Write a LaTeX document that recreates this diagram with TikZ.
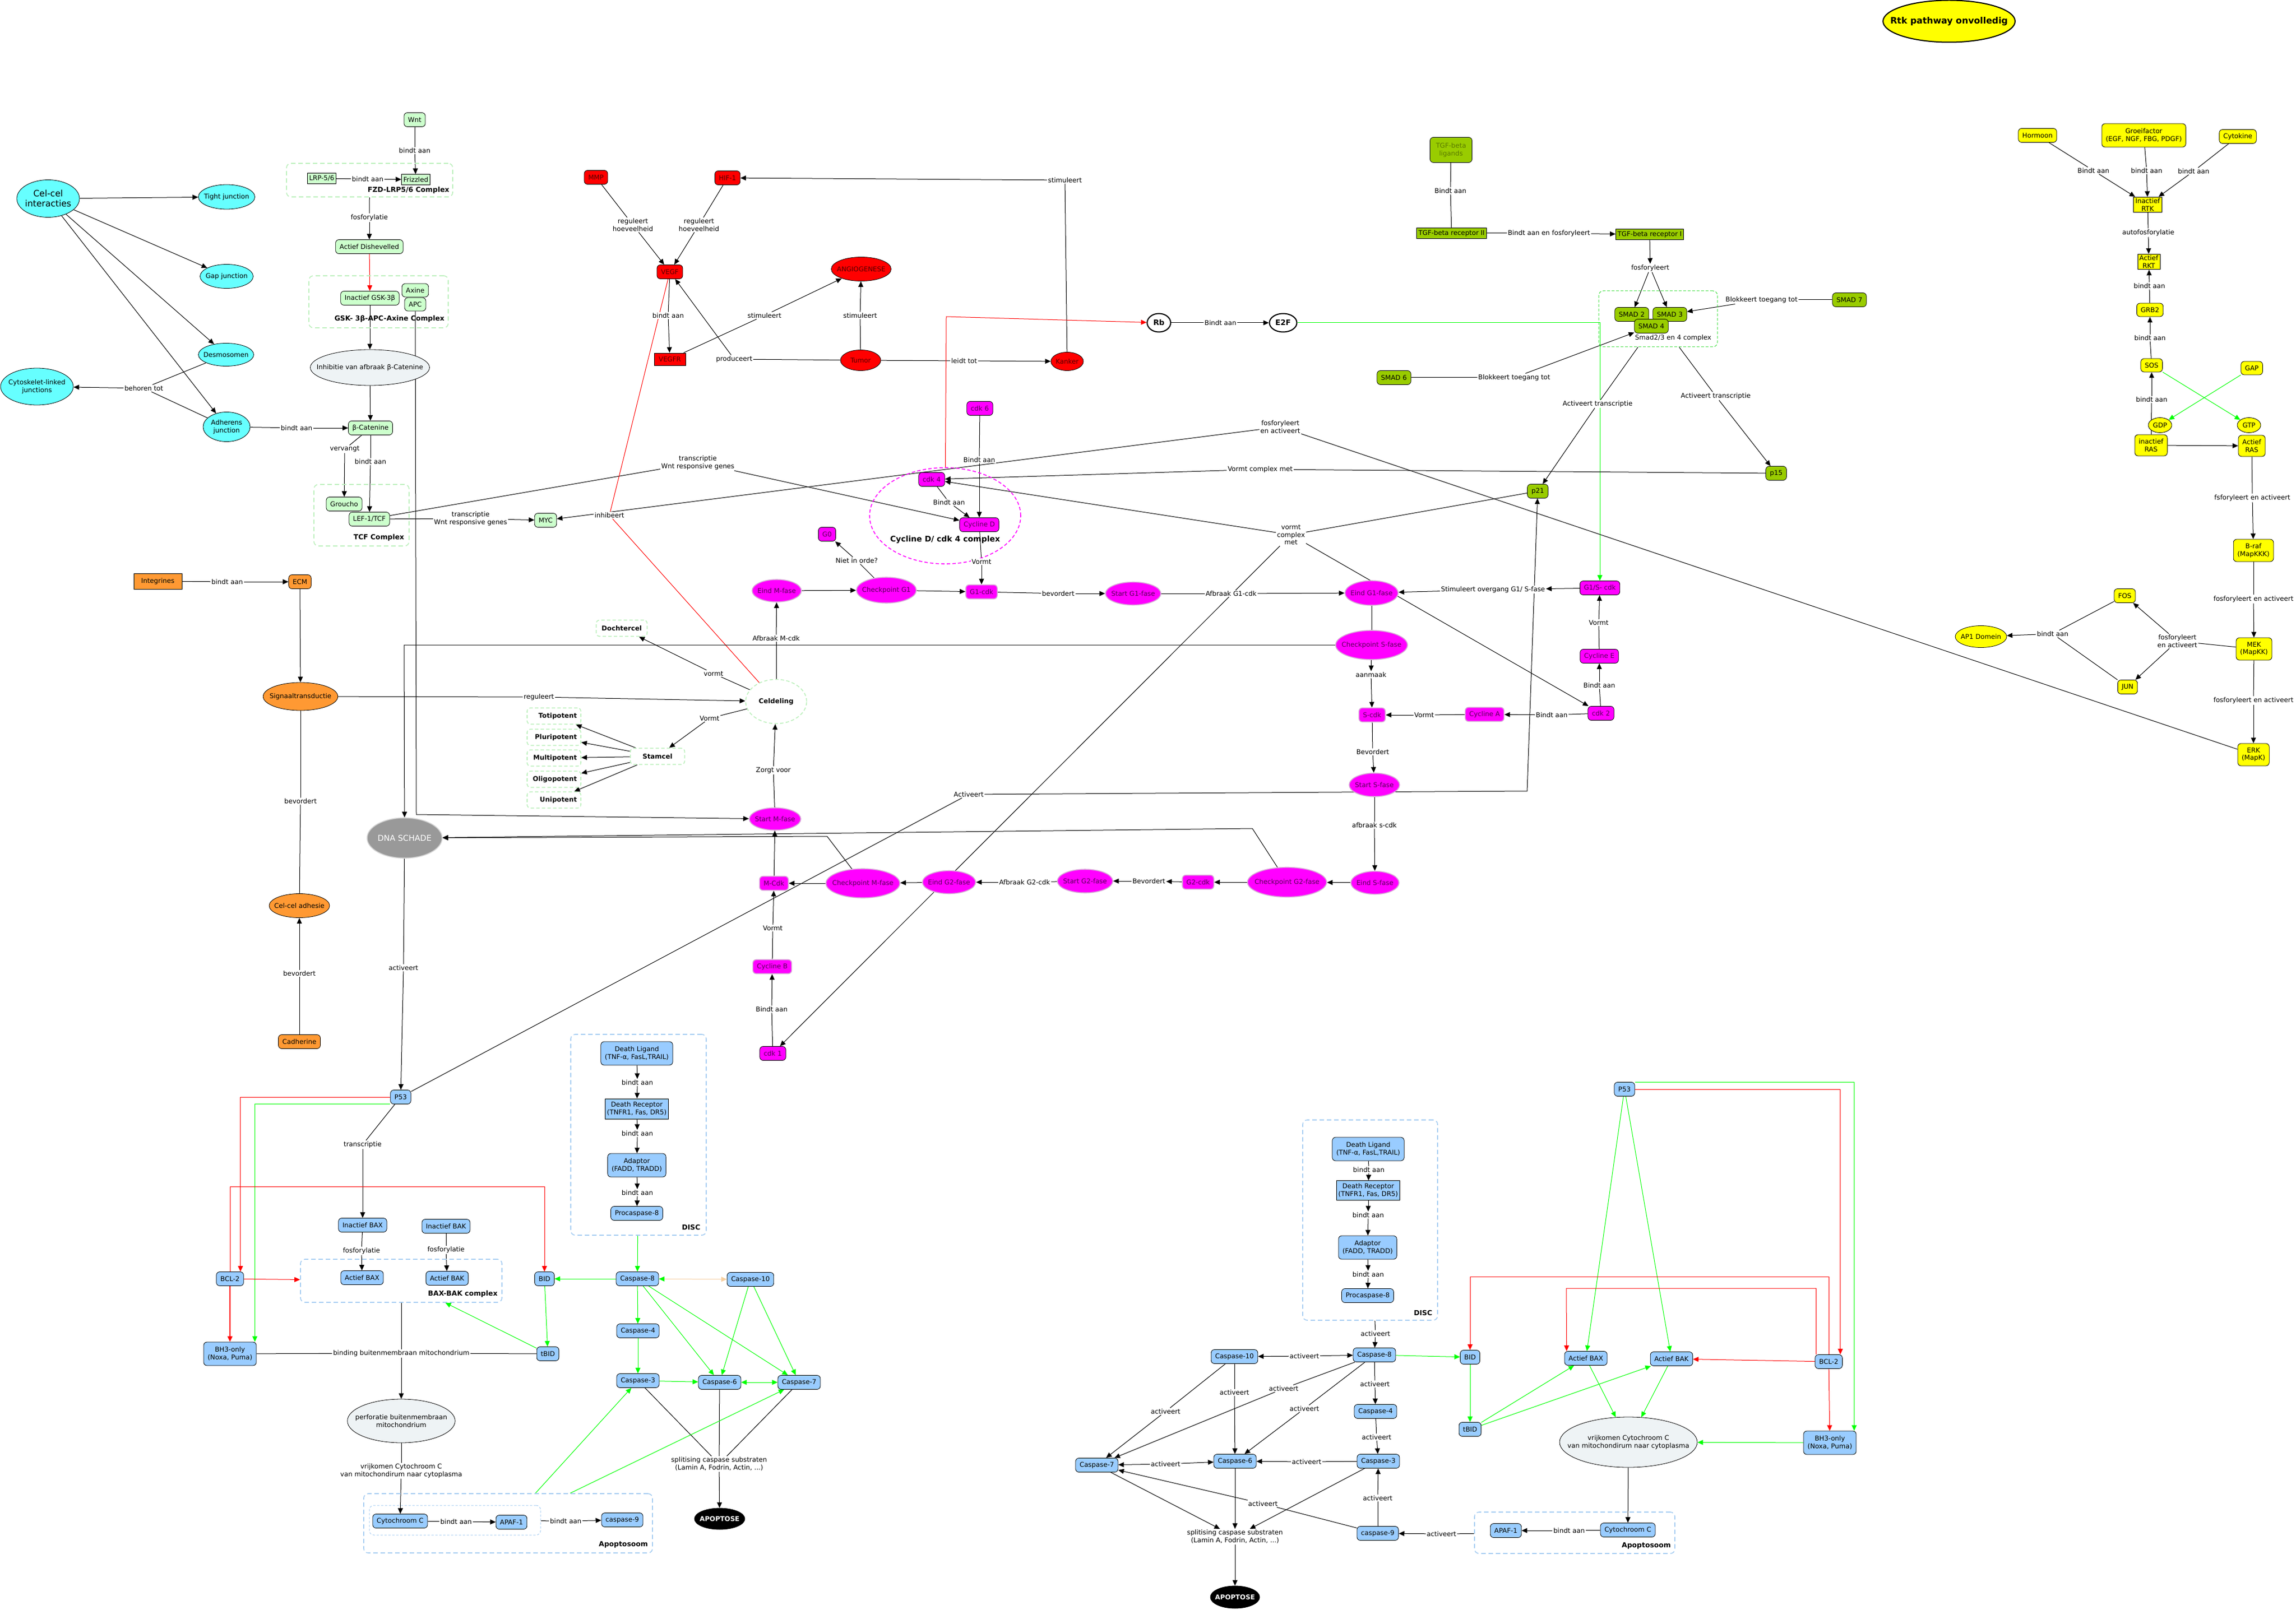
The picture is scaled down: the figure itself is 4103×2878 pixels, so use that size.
\documentclass[tikz,border=0pt]{standalone}
\usepackage{fontspec}
\setmainfont{DejaVu Sans}
\usetikzlibrary{arrows.meta,shapes.geometric}
\pgfdeclarelayer{bg}
\pgfsetlayers{bg,main}
\definecolor{celcyan}{HTML}{66FFFF}
\definecolor{wntgreen}{HTML}{CCFFCC}
\definecolor{grpgreen}{HTML}{BDF0BD}
\definecolor{tgfgreen}{HTML}{99CC00}
\definecolor{tgftext}{HTML}{5A7A00}
\definecolor{smadline}{HTML}{33DD33}
\definecolor{angred}{HTML}{FF0000}
\definecolor{redtext}{HTML}{550000}
\definecolor{cycmag}{HTML}{FF00FF}
\definecolor{magtext}{HTML}{5A005A}
\definecolor{magedge}{HTML}{D8A8D8}
\definecolor{rtkyellow}{HTML}{FFFF00}
\definecolor{ecmorange}{HTML}{FF9933}
\definecolor{apoblue}{HTML}{99CCFF}
\definecolor{grpblue}{HTML}{A6CDF2}
\definecolor{palegray}{HTML}{EEF3F5}
\definecolor{dnagray}{HTML}{999999}
\definecolor{actgreen}{HTML}{00FF00}
\definecolor{casptan}{HTML}{F5CFA0}
\tikzset{
	>={Triangle[length=5pt,width=4.4pt]},
	box/.style={draw, rounded corners=3pt, align=center, inner xsep=3.6pt, inner ysep=2pt, minimum height=12.5pt},
	rbox/.style={draw, align=center, inner xsep=1.6pt, inner ysep=1.2pt, minimum height=9.5pt},
	ov/.style={draw, ellipse, align=center, inner xsep=-4pt, inner ysep=0pt},
	two/.style={minimum height=20pt},
	lab/.style={fill=white, inner sep=0.7pt, align=center},
	grp/.style={draw, dash pattern=on 4pt off 2.5pt, rounded corners=4pt, line width=0.8pt},
	grptxt/.style={font=\fontsize{6.2}{7}\selectfont\bfseries},
	stembox/.style={draw=grpgreen, dash pattern=on 3pt off 2pt, rounded corners=3pt, line width=0.8pt, minimum height=14.5pt, inner xsep=3.5pt, font=\fontsize{5.9}{6.9}\selectfont\bfseries},
	potency/.style={stembox, text width=41pt, align=right},
	cn/.style={line width=0.5pt},
	ar/.style={cn, ->},
	gar/.style={cn, ->, draw=actgreen},
	rar/.style={cn, ->, draw=red},
	cel/.style={ov, fill=celcyan},
	wnt/.style={box, fill=wntgreen},
	wntr/.style={rbox, fill=wntgreen},
	ang/.style={box, fill=angred, text=redtext},
	angov/.style={ov, fill=angred, text=redtext},
	tgf/.style={box, fill=tgfgreen},
	tgfr/.style={rbox, fill=tgfgreen},
	cyc/.style={box, fill=cycmag, text=magtext},
	cycl/.style={box, fill=cycmag, text=magtext, draw=magedge, line width=0.8pt},
	cycov/.style={ov, fill=cycmag, text=magtext, draw=magedge, line width=0.8pt},
	rtk/.style={box, fill=rtkyellow},
	rtkr/.style={rbox, fill=rtkyellow},
	org/.style={box, fill=ecmorange},
	apo/.style={box, fill=apoblue},
	apor/.style={rbox, fill=apoblue},
	apoend/.style={ov, fill=black, text=white, font=\fontsize{5.9}{6.9}\selectfont\bfseries},
}
\begin{document}
\begin{tikzpicture}[x=0.5pt,y=-0.5pt,font=\fontsize{5.9}{6.9}\selectfont]
	\useasboundingbox (0,0) rectangle (4103,2878);
	\node[ov, fill=rtkyellow, line width=1pt, inner xsep=-11pt, minimum width=118pt, minimum height=37.5pt, font=\fontsize{7.9}{9}\selectfont\bfseries] at (3483,38) (rtktitle) {Rtk pathway onvolledig};

	\node[cel, minimum width=56pt, minimum height=33.5pt, font=\fontsize{7.8}{9}\selectfont] at (86,355) (celcel) {Cel-cel\\interacties};
	\node[cel, minimum width=50.5pt, minimum height=22pt] at (405,352) (tight) {Tight junction};
	\node[cel, minimum width=47.5pt, minimum height=21.5pt] at (405,494) (gapj) {Gap junction};
	\node[cel, minimum width=49.5pt, minimum height=20.5pt] at (404,634) (desmo) {Desmosomen};
	\node[cel, minimum width=65pt, minimum height=33pt] at (66,691) (cytosk) {Cytoskelet-linked\\junctions};
	\node[cel, minimum width=42pt, minimum height=26.5pt] at (405,763) (adherens) {Adherens\\junction};
	\node[lab] at (257,694) (lbeh) {behoren tot};
	\node[lab] at (530,765) (lad) {bindt aan};

	\node[wnt] at (741,214) (wnt) {Wnt};
	\node[grp, draw=grpgreen, minimum width=148.5pt, minimum height=30pt] at (660.5,322) (fzd) {};
	\node[wntr] at (575,319) (lrp) {LRP-5/6};
	\node[wntr] at (743,321) (frz) {Frizzled};
	\node[grptxt] at (730,340) (tfzd) {FZD-LRP5/6 Complex};
	\node[wnt] at (660,441) (dsh) {Actief Dishevelled};
	\node[grp, draw=grpgreen, minimum width=124.5pt, minimum height=46.5pt] at (676.5,539.5) (gsk) {};
	\node[wnt] at (661,533) (gsk3) {Inactief GSK-3β};
	\node[wnt, minimum height=12pt] at (742,519) (axine) {Axine};
	\node[wnt, minimum height=12pt] at (742,544) (apc) {APC};
	\node[grptxt] at (696,570) (tgsk) {GSK- 3β-APC-Axine Complex};
	\node[ov, fill=palegray, inner xsep=-10pt, minimum width=106.5pt, minimum height=32pt] at (661,657) (inhib) {Inhibitie van afbraak β-Catenine};
	\node[wnt] at (662,765) (bcat) {β-Catenine};
	\node[grp, draw=grpgreen, minimum width=85pt, minimum height=55pt] at (646,921) (tcf) {};
	\node[wnt] at (615,901) (groucho) {Groucho};
	\node[wnt] at (660,928) (lef) {LEF-1/TCF};
	\node[grptxt] at (677,961) (ttcf) {TCF Complex};
	\node[wnt] at (975,930) (myc) {MYC};
	\node[lab] at (741,269) (lw1) {bindt aan};
	\node[lab] at (657,320) (lw2) {bindt aan};
	\node[lab] at (660,389) (lw3) {fosforylatie};
	\node[lab] at (616,803) (lw4) {vervangt};
	\node[lab] at (662,825) (lw5) {bindt aan};
	\node[lab] at (841,927) (lw6) {transcriptie\\Wnt responsive genes};
	\node[lab] at (1247,827) (lw7) {transcriptie\\Wnt responsive genes};

	\node[ang] at (1065,317) (mmp) {MMP};
	\node[ang] at (1300,318) (hif) {HIF-1};
	\node[ang] at (1197,486) (vegf) {VEGF};
	\node[rbox, fill=angred, text=redtext, minimum width=28pt, minimum height=11pt] at (1197,642) (vegfr) {VEGFR};
	\node[angov, minimum width=53.5pt, minimum height=21.5pt] at (1539,481) (angio) {ANGIOGENESE};
	\node[angov, minimum width=36pt, minimum height=18.5pt] at (1538,644) (tumor) {Tumor};
	\node[angov, minimum width=29pt, minimum height=16.5pt] at (1907,646) (kanker) {Kanker};
	\node[lab] at (1131,402) (la1) {reguleert\\hoeveelheid};
	\node[lab] at (1249,402) (la2) {reguleert\\hoeveelheid};
	\node[lab] at (1194,564) (la3) {bindt aan};
	\node[lab] at (1366,564) (la4) {stimuleert};
	\node[lab] at (1312,642) (la5) {produceert};
	\node[lab] at (1537,564) (la6) {stimuleert};
	\node[lab] at (1723,645) (la7) {leidt tot};
	\node[lab] at (1903,322) (la8) {stimuleert};
	\node[lab] at (1089,921) (la9) {inhibeert};

	\node[ov, fill=white, line width=1pt, inner xsep=0pt, minimum width=21pt, minimum height=16.5pt, font=\fontsize{6.7}{7.5}\selectfont\bfseries] at (2071,577) (rb) {Rb};
	\node[ov, fill=white, line width=1pt, inner xsep=0pt, minimum width=24.5pt, minimum height=16.5pt, font=\fontsize{6.7}{7.5}\selectfont\bfseries] at (2293,577) (e2f) {E2F};
	\node[lab] at (2181,577) (lr1) {Bindt aan};

	\node[tgf, two, text=tgftext, minimum width=37.5pt, minimum height=22.5pt] at (2593,268) (tgflig) {TGF-beta\\ligands};
	\node[tgfr] at (2594,417) (tgfr2) {TGF-beta receptor II};
	\node[tgfr] at (2948,419) (tgfr1) {TGF-beta receptor I};
	\node[grp, draw=smadline, dash pattern=on 2.5pt off 1.5pt, line width=0.5pt, minimum width=106pt, minimum height=50pt] at (2963,570) (smadcplx) {};
	\node[tgf] at (2916,562) (smad2) {SMAD 2};
	\node[tgf] at (2984,562) (smad3) {SMAD 3};
	\node[tgf] at (2951,583) (smad4) {SMAD 4};
	\node at (2990,604) (tsmad) {Smad2/3 en 4 complex};
	\node[tgf] at (2491,675) (smad6) {SMAD 6};
	\node[tgf] at (3305,536) (smad7) {SMAD 7};
	\node[tgf] at (2748,878) (p21) {p21};
	\node[tgf] at (3174,846) (p15) {p15};
	\node[lab] at (2592,341) (lt1) {Bindt aan};
	\node[lab] at (2768,417) (lt2) {Bindt aan en fosforyleert};
	\node[lab] at (2949,479) (lt3) {fosforyleert};
	\node[lab] at (2706,675) (lt4) {Blokkeert toegang tot};
	\node[lab] at (3148,536) (lt5) {Blokkeert toegang tot};
	\node[lab] at (2855,722) (lt6) {Activeert transcriptie};
	\node[lab] at (3066,708) (lt7) {Activeert transcriptie};
	\node[lab] at (2252,839) (lt8) {Vormt complex met};
	\node[lab] at (2307,956) (lt9) {vormt\\complex\\met};

	\node[cyc] at (1478,955) (g0) {G0};
	\node[draw=cycmag, ellipse, dash pattern=on 3pt off 2pt, line width=0.8pt, minimum width=135pt, minimum height=86pt] at (1689,922) (cdcplx) {};
	\node[font=\fontsize{7}{8}\selectfont\bfseries] at (1689,965) (tcd) {Cycline D/ cdk 4 complex};
	\node[cyc] at (1751,730) (cdk6) {cdk 6};
	\node[cyc] at (1665,857) (cdk4) {cdk 4};
	\node[cyc] at (1750,938) (cycd) {Cycline D};
	\node[cycov, minimum width=44pt, minimum height=20pt] at (1388,1056) (eindm) {Eind M-fase};
	\node[cycov, minimum width=53.5pt, minimum height=23pt] at (1584,1055) (chkg1) {Checkpoint G1};
	\node[cycl] at (1754,1058) (g1cdk) {G1-cdk};
	\node[cycov, minimum width=49.5pt, minimum height=20.5pt] at (2025,1061) (startg1) {Start G1-fase};
	\node[cycov, minimum width=47.5pt, minimum height=22pt] at (2451,1060) (eindg1) {Eind G1-fase};
	\node[cyc] at (2859,1051) (g1s) {G1/S- cdk};
	\node[cycov, minimum width=64pt, minimum height=26pt] at (2451,1153) (chks) {Checkpoint S-fase};
	\node[cycl] at (2452,1278) (scdk) {S-cdk};
	\node[cycl] at (2653,1277) (cyca) {Cycline A};
	\node[cyc] at (2861,1275) (cdk2) {cdk 2};
	\node[cyc] at (2858,1173) (cyce) {Cycline E};
	\node[cycov, minimum width=45pt, minimum height=21pt] at (2456,1403) (starts) {Start S-fase};
	\node[cycov, minimum width=43pt, minimum height=20.5pt] at (2457,1578) (einds) {Eind S-fase};
	\node[cycov, minimum width=68.5pt, minimum height=26.5pt] at (2300,1577) (chkg2) {Checkpoint G2-fase};
	\node[cycl] at (2141,1577) (g2cdk) {G2-cdk};
	\node[cycov, minimum width=49.5pt, minimum height=21pt] at (1939,1575) (startg2) {Start G2-fase};
	\node[cycov, minimum width=47.5pt, minimum height=20.5pt] at (1696,1577) (eindg2) {Eind G2-fase};
	\node[cycov, minimum width=64.5pt, minimum height=26pt] at (1542,1579) (chkm) {Checkpoint M-fase};
	\node[cycl] at (1383,1579) (mcdk) {M-Cdk};
	\node[cycl] at (1380,1728) (cycb) {Cycline B};
	\node[cyc] at (1381,1883) (cdk1) {cdk 1};
	\node[cycov, minimum width=46pt, minimum height=20pt] at (1385,1464) (startm) {Start M-fase};
	\node[ov, draw=grpgreen, dash pattern=on 3pt off 2pt, line width=0.8pt, fill=white, minimum width=54.5pt, minimum height=39.5pt, font=\fontsize{5.9}{6.9}\selectfont\bfseries] at (1387,1254) (celdeling) {Celdeling};
	\node[stembox, minimum width=45.5pt] at (1111,1123) (dochter) {Dochtercel};
	\node[stembox, minimum width=48.5pt] at (1175,1352) (stamcel) {Stamcel};
	\node[potency] at (990,1280) (toti) {Totipotent};
	\node[potency] at (990,1318) (pluri) {Pluripotent};
	\node[potency] at (990,1355) (multi) {Multipotent};
	\node[potency] at (990,1393) (oligo) {Oligopotent};
	\node[potency] at (990,1430) (uni) {Unipotent};
	\node[lab] at (1750,822) (lc1) {Bindt aan};
	\node[lab] at (1696,898) (lc2) {Bindt aan};
	\node[lab] at (1754,1004) (lc3) {Vormt};
	\node[lab] at (1531,1002) (lc4) {Niet in orde?};
	\node[lab] at (1891,1061) (lc5) {bevordert};
	\node[lab] at (2200,1061) (lc6) {Afbraak G1-cdk};
	\node[lab] at (2668,1054) (lc7) {Stimuleert overgang G1/ S-fase};
	\node[lab] at (2450,1206) (lc8) {aanmaak};
	\node[lab] at (2773,1278) (lc9) {Bindt aan};
	\node[lab] at (2545,1278) (lc10) {Vormt};
	\node[lab] at (2858,1225) (lc11) {Bindt aan};
	\node[lab] at (2857,1113) (lc12) {Vormt};
	\node[lab] at (2453,1344) (lc13) {Bevordert};
	\node[lab] at (2456,1475) (lc14) {afbraak s-cdk};
	\node[lab] at (2053,1575) (lc15) {Bevordert};
	\node[lab] at (1831,1577) (lc16) {Afbraak G2-cdk};
	\node[lab] at (1379,1804) (lc17) {Bindt aan};
	\node[lab] at (1381,1659) (lc18) {Vormt};
	\node[lab] at (1382,1377) (lc19) {Zorgt voor};
	\node[lab] at (1387,1141) (lc20) {Afbraak M-cdk};
	\node[lab] at (1275,1204) (lc21) {vormt};
	\node[lab] at (1268,1284) (lc22) {Vormt};
	\node[lab] at (1731,1420) (lc23) {Activeert};

	\node[rbox, fill=ecmorange, minimum width=43pt, minimum height=14pt] at (282,1039) (integr) {Integrines};
	\node[org] at (536,1040) (ecm) {ECM};
	\node[ov, fill=ecmorange, minimum width=64.5pt, minimum height=25pt] at (537,1245) (signaal) {Signaaltransductie};
	\node[ov, fill=ecmorange, minimum width=54pt, minimum height=21.5pt] at (535,1619) (celadh) {Cel-cel adhesie};
	\node[org] at (535,1862) (cadh) {Cadherine};
	\node[lab] at (406,1040) (lo1) {bindt aan};
	\node[lab] at (963,1246) (lo2) {reguleert};
	\node[lab] at (537,1432) (lo3) {bevordert};
	\node[lab] at (535,1740) (lo4) {bevordert};

	\node[ov, fill=dnagray, draw=gray!35, line width=0.8pt, text=white, minimum width=67pt, minimum height=36pt, font=\fontsize{7.2}{8}\selectfont] at (723,1498) (dna) {DNA SCHADE};
	\node[apo] at (716,1961) (p53) {P53};
	\node[lab] at (721,1730) (ld1) {activeert};

	\node[apo] at (648,2190) (ibax) {Inactief BAX};
	\node[apo] at (797,2192) (ibak) {Inactief BAK};
	\node[grp, draw=grpblue, minimum width=180pt, minimum height=38.5pt] at (717,2289.5) (baxbak) {};
	\node[apo] at (647,2284) (abax) {Actief BAX};
	\node[apo] at (799,2285) (abak) {Actief BAK};
	\node[grptxt] at (827,2313) (tbaxbak) {BAX-BAK complex};
	\node[apo] at (411,2286) (bcl) {BCL-2};
	\node[apo, two, minimum height=21pt] at (411,2420) (bh3) {BH3-only\\(Noxa, Puma)};
	\node[apo] at (973,2286) (bid) {BID};
	\node[apo] at (979,2420) (tbid) {tBID};
	\node[ov, fill=palegray, inner xsep=-7pt, minimum width=95.5pt, minimum height=39pt] at (717,2540) (perfo) {perforatie buitenmembraan\\mitochondrium};
	\node[grp, draw=grpblue, minimum width=258pt, minimum height=53pt] at (908,2723) (apoL) {};
	\node[grp, draw=grpblue, line width=0.5pt, dash pattern=on 2pt off 1.5pt, minimum width=153pt, minimum height=26.5pt] at (813,2717.5) (apoLin) {};
	\node[apo] at (715,2719) (cytcL) {Cytochroom C};
	\node[apo] at (914,2721) (apafL) {APAF-1};
	\node[apo] at (1112,2717) (casp9L) {caspase-9};
	\node[grptxt] at (1114,2761) (tapoL) {Apoptosoom};
	\node[grp, draw=grpblue, minimum width=121pt, minimum height=179.5pt] at (1141,2028.5) (discL) {};
	\node[apo, minimum height=21pt] at (1138,1883) (dligL) {Death Ligand\\(TNF-α, FasL,TRAIL)};
	\node[apor, minimum height=18pt] at (1138,1982) (drecL) {Death Receptor\\(TNFR1, Fas, DR5)};
	\node[apo, minimum height=21pt] at (1138,2083) (adapL) {Adaptor\\(FADD, TRADD)};
	\node[apo] at (1138,2169) (procL) {Procaspase-8};
	\node[grptxt] at (1235,2194) (tdiscL) {DISC};
	\node[apo] at (1139,2286) (c8L) {Caspase-8};
	\node[apo] at (1341,2287) (c10L) {Caspase-10};
	\node[apo] at (1140,2379) (c4L) {Caspase-4};
	\node[apo] at (1140,2468) (c3L) {Caspase-3};
	\node[apo] at (1286,2471) (c6L) {Caspase-6};
	\node[apo] at (1428,2471) (c7L) {Caspase-7};
	\node[apoend, minimum width=45pt, minimum height=19pt] at (1286,2715) (apoptL) {APOPTOSE};
	\node[lab] at (648,2046) (lp1) {transcriptie};
	\node[lab] at (646,2236) (lp2) {fosforylatie};
	\node[lab] at (797,2234) (lp3) {fosforylatie};
	\node[lab] at (717,2419) (lp4) {binding buitenmembraan mitochondrium};
	\node[lab] at (717,2629) (lp5) {vrijkomen Cytochroom C\\van mitochondirum naar cytoplasma};
	\node[lab] at (815,2720) (lp6) {bindt aan};
	\node[lab] at (1011,2719) (lp7) {bindt aan};
	\node[lab] at (1139,1935) (lp8) {bindt aan};
	\node[lab] at (1139,2026) (lp9) {bindt aan};
	\node[lab] at (1139,2132) (lp10) {bindt aan};
	\node[lab] at (1285,2617) (lp11) {splitising caspase substraten\\(Lamin A, Fodrin, Actin, ...)};

	\node[grp, draw=grpblue, minimum width=120.5pt, minimum height=179pt] at (2448.5,2181) (discR) {};
	\node[apo, minimum height=21pt] at (2445,2054) (dligR) {Death Ligand\\(TNF-α, FasL,TRAIL)};
	\node[apor, minimum height=17.5pt] at (2445,2128) (drecR) {Death Receptor\\(TNFR1, Fas, DR5)};
	\node[apo, minimum height=21pt] at (2444,2230) (adapR) {Adaptor\\(FADD, TRADD)};
	\node[apo] at (2444,2316) (procR) {Procaspase-8};
	\node[grptxt] at (2543,2347) (tdiscR) {DISC};
	\node[apo] at (2456,2422) (c8R) {Caspase-8};
	\node[apo] at (2206,2425) (c10R) {Caspase-10};
	\node[apo] at (2458,2523) (c4R) {Caspase-4};
	\node[apo] at (2463,2612) (c3R) {Caspase-3};
	\node[apo] at (2207,2612) (c6R) {Caspase-6};
	\node[apo] at (1960,2619) (c7R) {Caspase-7};
	\node[apo] at (2462,2741) (c9R) {caspase-9};
	\node[apoend, minimum width=44pt, minimum height=20pt] at (2207,2855) (apoptR) {APOPTOSE};
	\node[apo] at (2627,2426) (bidR) {BID};
	\node[apo] at (2627,2555) (tbidR) {tBID};
	\node[apo] at (2834,2428) (abaxR) {Actief BAX};
	\node[apo] at (2987,2429) (abakR) {Actief BAK};
	\node[apo] at (3268,2434) (bclR) {BCL-2};
	\node[apo, minimum height=21pt] at (3270,2579) (bh3R) {BH3-only\\(Noxa, Puma)};
	\node[apo] at (2903,1947) (p53R) {P53};
	\node[ov, fill=palegray, inner xsep=-12.5pt, minimum width=123pt, minimum height=45pt] at (2910,2578) (vrijR) {vrijkomen Cytochroom C\\van mitochondirum naar cytoplasma};
	\node[grp, draw=grpblue, minimum width=179pt, minimum height=37pt] at (2814,2740) (apoR) {};
	\node[apo] at (2691,2736) (apafR) {APAF-1};
	\node[apo] at (2909,2735) (cytcR) {Cytochroom C};
	\node[grptxt] at (2942,2763) (tapoR) {Apoptosoom};
	\node[lab] at (2446,2091) (lq1) {bindt aan};
	\node[lab] at (2445,2172) (lq2) {bindt aan};
	\node[lab] at (2445,2278) (lq3) {bindt aan};
	\node[lab] at (2458,2384) (lq4) {activeert};
	\node[lab] at (2331,2424) (lq5) {activeert};
	\node[lab] at (2457,2474) (lq6) {activeert};
	\node[lab] at (2460,2569) (lq7) {activeert};
	\node[lab] at (2335,2613) (lq8) {activeert};
	\node[lab] at (2083,2617) (lq9) {activeert};
	\node[lab] at (2083,2523) (lq10) {activeert};
	\node[lab] at (2206,2489) (lq11) {activeert};
	\node[lab] at (2294,2482) (lq12) {activeert};
	\node[lab] at (2331,2518) (lq13) {activeert};
	\node[lab] at (2257,2688) (lq14) {activeert};
	\node[lab] at (2462,2678) (lq15) {activeert};
	\node[lab] at (2576,2742) (lq16) {activeert};
	\node[lab] at (2804,2736) (lq17) {bindt aan};
	\node[lab] at (2207,2747) (lq18) {splitising caspase substraten\\(Lamin A, Fodrin, Actin, ...)};

	\node[rtk] at (3641,242) (hormoon) {Hormoon};
	\node[rtk, minimum height=21pt] at (3831,242) (groei) {Groeifactor\\(EGF, NGF, FBG, PDGF)};
	\node[rtk] at (3999,244) (cytok) {Cytokine};
	\node[rtkr] at (3838,366) (irtk) {Inactief\\RTK};
	\node[rtkr] at (3840,468) (artk) {Actief\\RKT};
	\node[rtk, minimum height=12pt] at (3842,554) (grb2) {GRB2};
	\node[rtk, minimum height=12pt] at (3845,653) (sos) {SOS};
	\node[rtk, minimum height=12pt] at (4024,658) (gapr) {GAP};
	\node[ov, fill=rtkyellow, minimum width=21pt, minimum height=13.5pt] at (3860,760) (gdp) {GDP};
	\node[ov, fill=rtkyellow, minimum width=21pt, minimum height=13.5pt] at (4019,760) (gtp) {GTP};
	\node[rtk, minimum height=19pt] at (3844,796) (iras) {inactief\\RAS};
	\node[rtk, minimum height=19pt] at (4024,797) (aras) {Actief\\RAS};
	\node[rtk, two] at (4027,984) (braf) {B-raf\\(MapKKK)};
	\node[rtk, two] at (4028,1160) (mek) {MEK\\(MapKK)};
	\node[rtk] at (3797,1065) (fos) {FOS};
	\node[rtk] at (3802,1228) (jun) {JUN};
	\node[ov, fill=rtkyellow, minimum width=46pt, minimum height=19.5pt] at (3540,1138) (ap1) {AP1 Domein};
	\node[rtk, two] at (4027,1349) (erk) {ERK\\(MapK)};
	\node[lab] at (3741,305) (ly1) {Bindt aan};
	\node[lab] at (3836,305) (ly2) {bindt aan};
	\node[lab] at (3920,306) (ly3) {bindt aan};
	\node[lab] at (3839,416) (ly4) {autofosforylatie};
	\node[lab] at (3841,511) (ly5) {bindt aan};
	\node[lab] at (3842,604) (ly6) {bindt aan};
	\node[lab] at (3845,714) (ly7) {bindt aan};
	\node[lab] at (4025,890) (ly8) {fsforyleert en activeert};
	\node[lab] at (4027,1071) (ly9) {fosforyleert en activeert};
	\node[lab] at (3891,1146) (ly10) {fosforyleert\\en activeert};
	\node[lab] at (3668,1133) (ly11) {bindt aan};
	\node[lab] at (4027,1252) (ly12) {fosforyleert en activeert};
	\node[lab] at (2288,763) (ly13) {fosforyleert\\en activeert};

	\begin{pgfonlayer}{bg}
	\fill[white] (0,0) rectangle (4103,2878);
	\path (celcel) edge[ar] (tight) (celcel) edge[ar] (gapj) (celcel) edge[ar] (desmo) (celcel) edge[ar] (adherens);
	\path (desmo) edge[cn] (lbeh) (adherens) edge[cn] (lbeh) (lbeh) edge[ar] (cytosk);
	\path (adherens) edge[cn] (lad) (lad) edge[ar] (bcat);

	\path (wnt) edge[cn] (lw1) (lw1) edge[ar] (frz);
	\path (lrp) edge[cn] (lw2) (lw2) edge[ar] (frz);
	\path (fzd) edge[cn] (lw3) (lw3) edge[ar] (dsh);
	\path (dsh) edge[rar] (gsk3);
	\path (gsk3) edge[ar] (inhib) (inhib) edge[ar] (bcat);
	\path (bcat) edge[cn] (lw4) (lw4) edge[ar] (groucho);
	\path (bcat) edge[cn] (lw5) (lw5) edge[ar] (lef);
	\path (lef) edge[cn] (lw6) (lw6) edge[ar] (myc);
	\path (lef) edge[cn] (lw7) (lw7) edge[ar] (cycd);
	\draw[ar] (apc) -- (744,1456) -- (startm);

	\path (mmp) edge[cn] (la1) (la1) edge[ar] (vegf);
	\path (hif) edge[cn] (la2) (la2) edge[ar] (vegf);
	\path (vegf) edge[cn] (la3) (la3) edge[ar] (vegfr);
	\path (vegfr) edge[cn] (la4) (la4) edge[ar] (angio);
	\path (tumor) edge[cn] (la5) (la5) edge[ar] (vegf);
	\path (tumor) edge[cn] (la6) (la6) edge[ar] (angio);
	\path (tumor) edge[cn] (la7) (la7) edge[ar] (kanker);
	\path (kanker) edge[cn] (la8) (la8) edge[ar] (hif);
	\path (vegf) edge[cn, draw=red] (la9) (la9) edge[cn, draw=red] (celdeling);

	\path (rb) edge[cn] (lr1) (lr1) edge[ar] (e2f);
	\draw[gar] (e2f) -| (g1s);
	\draw[rar] (cdcplx) -- (1691,566) -- (rb);

	\path (tgflig) edge[cn] (lt1) (lt1) edge[cn] (tgfr2);
	\path (tgfr2) edge[cn] (lt2) (lt2) edge[ar] (tgfr1);
	\path (tgfr1) edge[ar] (lt3) (lt3) edge[ar] (smad2) (lt3) edge[ar] (smad3);
	\path (smad6) edge[cn] (lt4) (lt4) edge[ar] (smad4);
	\path (smad7) edge[cn] (lt5) (lt5) edge[ar] (smad3);
	\path (smadcplx) edge[cn] (lt6) (lt6) edge[ar] (p21);
	\path (smadcplx) edge[cn] (lt7) (lt7) edge[ar] (p15);
	\path (p15) edge[cn] (lt8) (lt8) edge[ar] (cdk4);
	\path (p21) edge[cn] (lt9) (lt9) edge[ar] (cdk4) (lt9) edge[ar] (cdk1) (lt9) edge[ar] (cdk2);

	\path (cdk6) edge[cn] (lc1) (lc1) edge[ar] (cycd);
	\path (cdk4) edge[cn] (lc2) (lc2) edge[ar] (cycd);
	\path (cycd) edge[cn] (lc3) (lc3) edge[ar] (g1cdk);
	\path (chkg1) edge[cn] (lc4) (lc4) edge[ar] (g0);
	\path (eindm) edge[ar] (chkg1) (chkg1) edge[ar] (g1cdk);
	\path (g1cdk) edge[cn] (lc5) (lc5) edge[ar] (startg1);
	\path (startg1) edge[cn] (lc6) (lc6) edge[ar] (eindg1);
	\path (g1s) edge[ar] (lc7) (lc7) edge[ar] (eindg1);
	\path (eindg1) edge[cn] (chks);
	\path (chks) edge[ar] (lc8) (lc8) edge[ar] (scdk);
	\path (cdk2) edge[cn] (lc9) (lc9) edge[ar] (cyca);
	\path (cyca) edge[cn] (lc10) (lc10) edge[ar] (scdk);
	\path (cdk2) edge[cn] (lc11) (lc11) edge[ar] (cyce);
	\path (cyce) edge[cn] (lc12) (lc12) edge[ar] (g1s);
	\path (scdk) edge[cn] (lc13) (lc13) edge[ar] (starts);
	\path (starts) edge[cn] (lc14) (lc14) edge[ar] (einds);
	\path (einds) edge[ar] (chkg2) (chkg2) edge[ar] (g2cdk);
	\path (g2cdk) edge[ar] (lc15) (lc15) edge[ar] (startg2);
	\path (startg2) edge[cn] (lc16) (lc16) edge[ar] (eindg2);
	\path (eindg2) edge[ar] (chkm) (chkm) edge[ar] (mcdk);
	\path (cdk1) edge[cn] (lc17) (lc17) edge[ar] (cycb);
	\path (cycb) edge[cn] (lc18) (lc18) edge[ar] (mcdk);
	\path (mcdk) edge[ar] (startm);
	\path (startm) edge[cn] (lc19) (lc19) edge[ar] (celdeling);
	\path (celdeling) edge[cn] (lc20) (lc20) edge[ar] (eindm);
	\path (celdeling) edge[cn] (lc21) (lc21) edge[ar] (dochter);
	\path (celdeling) edge[cn] (lc22) (lc22) edge[ar] (stamcel);
	\path (stamcel) edge[ar] (toti) (stamcel) edge[ar] (pluri) (stamcel) edge[ar] (multi) (stamcel) edge[ar] (oligo) (stamcel) edge[ar] (uni);
	\draw[ar] (chks) -- (722,1153) -- (dna);
	\draw[ar] (chkg2) -- (2238,1481) -- (dna);
	\draw[ar] (chkm) -- (1478,1495) -- (dna);
	\draw[cn] (p53) -- (lc23);
	\draw[ar] (lc23) -- (2729,1414) -- (p21);

	\path (integr) edge[cn] (lo1) (lo1) edge[ar] (ecm);
	\path (ecm) edge[ar] (signaal);
	\path (signaal) edge[cn] (lo2) (lo2) edge[ar] (celdeling);
	\path (signaal) edge[cn] (lo3) (lo3) edge[cn] (celadh);
	\path (cadh) edge[cn] (lo4) (lo4) edge[ar] (celadh);
	\path (dna) edge[cn] (ld1) (ld1) edge[ar] (p53);

	\path (p53) edge[cn] (lp1) (lp1) edge[ar] (ibax);
	\draw[rar] (p53) -| ([xshift=-3pt]bcl.north east);
	\draw[gar] (p53.south west) -| ([xshift=-1.5pt]bh3.north east);
	\path (bcl) edge[rar, line width=0.8pt] (bh3) (bcl) edge[rar] (baxbak);
	\draw[rar] (bcl) |- (973,2121) -- (bid);
	\path (ibax) edge[cn] (lp2) (lp2) edge[ar] (abax);
	\path (ibak) edge[cn] (lp3) (lp3) edge[ar] (abak);
	\path (bh3) edge[cn] (lp4) (lp4) edge[cn] (tbid);
	\path (baxbak) edge[cn] (lp4) (lp4) edge[ar] (perfo);
	\path (bid) edge[gar] (tbid) (tbid) edge[gar] (baxbak) (c8L) edge[gar] (bid);
	\path (perfo) edge[cn] (lp5) (lp5) edge[ar] (cytcL);
	\path (cytcL) edge[cn] (lp6) (lp6) edge[ar] (apafL);
	\path (apoLin) edge[cn] (lp7) (lp7) edge[ar] (casp9L);
	\path (dligL) edge[ar] (lp8) (lp8) edge[ar] (drecL);
	\path (drecL) edge[ar] (lp9) (lp9) edge[ar] (adapL);
	\path (adapL) edge[ar] (lp10) (lp10) edge[ar] (procL);
	\path (discL) edge[gar] (c8L);
	\path (c8L) edge[gar] (c4L) (c4L) edge[gar] (c3L) (c8L) edge[gar] (c6L) (c8L) edge[gar] (c7L);
	\path (c10L) edge[gar] (c6L) (c10L) edge[gar] (c7L) (c3L) edge[gar] (c6L);
	\path (c6L) edge[cn, <->, draw=actgreen] (c7L);
	\path (c8L) edge[cn, draw=casptan, {Triangle[length=5pt,width=4.4pt,color=actgreen]}-{Triangle[length=5pt,width=4.4pt]}] (c10L);
	\path (c3L) edge[cn] (lp11) (c7L) edge[cn] (lp11) (c6L) edge[cn] (lp11) (lp11) edge[ar] (apoptL);
	\path (apoL) edge[gar] (c3L) (apoL) edge[gar] (c7L);

	\path (dligR) edge[cn] (lq1) (lq1) edge[ar] (drecR);
	\path (drecR) edge[ar] (lq2) (lq2) edge[ar] (adapR);
	\path (adapR) edge[ar] (lq3) (lq3) edge[ar] (procR);
	\path (discR) edge[cn] (lq4) (lq4) edge[ar] (c8R);
	\path (c10R) edge[cn, <-] (lq5) (lq5) edge[ar] (c8R);
	\path (c8R) edge[cn] (lq6) (lq6) edge[ar] (c4R);
	\path (c4R) edge[cn] (lq7) (lq7) edge[ar] (c3R);
	\path (c3R) edge[cn] (lq8) (lq8) edge[ar] (c6R);
	\path (c7R) edge[cn, <-] (lq9) (lq9) edge[ar] (c6R);
	\path (c10R) edge[cn] (lq10) (lq10) edge[ar] (c7R);
	\path (c10R) edge[cn] (lq11) (lq11) edge[ar] (c6R);
	\path (c8R) edge[cn] (lq12) (lq12) edge[ar] (c7R);
	\path (c8R) edge[cn] (lq13) (lq13) edge[ar] (c6R);
	\path (c9R) edge[cn] (lq14) (lq14) edge[ar] (c7R);
	\path (c9R) edge[cn] (lq15) (lq15) edge[ar] (c3R);
	\path (apoR) edge[cn] (lq16) (lq16) edge[ar] (c9R);
	\path (cytcR) edge[cn] (lq17) (lq17) edge[ar] (apafR);
	\path (c7R) edge[ar] (lq18) (c6R) edge[ar] (lq18) (c3R) edge[ar] (lq18) (lq18) edge[ar] (apoptR);
	\path (c8R) edge[gar] (bidR) (bidR) edge[gar] (tbidR) (tbidR) edge[gar] (abaxR) (tbidR) edge[gar] (abakR);
	\path (abaxR) edge[gar] (vrijR) (abakR) edge[gar] (vrijR) (bh3R) edge[gar] (vrijR);
	\path (vrijR) edge[ar] (cytcR);
	\path (p53R) edge[gar] (abaxR) (p53R) edge[gar] (abakR);
	\draw[rar] (p53R) -| ([xshift=-2pt]bclR.north east);
	\draw[gar] (p53R.north east) -| ([xshift=-2pt]bh3R.north east);
	\draw[rar] (bclR) |- (2627,2282) -- (bidR);
	\draw[rar] ([xshift=1pt]bclR.north west) |- (2799,2303) -- ([xshift=2pt]abaxR.north west);
	\path (bclR) edge[rar] (abakR) (bclR) edge[rar] (bh3R);

	\path (hormoon) edge[cn] (ly1) (ly1) edge[ar] (irtk);
	\path (groei) edge[cn] (ly2) (ly2) edge[ar] (irtk);
	\path (cytok) edge[cn] (ly3) (ly3) edge[ar] (irtk);
	\path (irtk) edge[cn] (ly4) (ly4) edge[ar] (artk);
	\path (grb2) edge[cn] (ly5) (ly5) edge[ar] (artk);
	\path (sos) edge[cn] (ly6) (ly6) edge[ar] (grb2);
	\path (iras) edge[cn] (ly7) (ly7) edge[ar] (sos);
	\path (sos) edge[gar] (gtp) (gapr) edge[gar] (gdp);
	\path (iras) edge[ar] (aras);
	\path (aras) edge[cn] (ly8) (ly8) edge[ar] (braf);
	\path (braf) edge[cn] (ly9) (ly9) edge[ar] (mek);
	\path (mek) edge[cn] (ly10) (ly10) edge[ar] (fos) (ly10) edge[ar] (jun);
	\path (fos) edge[cn] (ly11) (jun) edge[cn] (ly11) (ly11) edge[ar] (ap1);
	\path (mek) edge[cn] (ly12) (ly12) edge[ar] (erk);
	\path (erk) edge[cn] (ly13) (ly13) edge[ar] (myc);
	\end{pgfonlayer}
\end{tikzpicture}
\end{document}
